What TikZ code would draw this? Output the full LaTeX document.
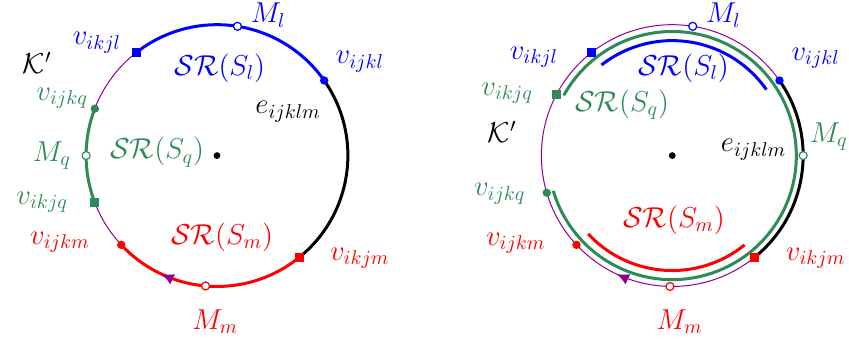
\documentclass[tikz,border=0pt]{standalone}
\usepackage{amsmath, amssymb}
\usepackage{tikz}
\usetikzlibrary{arrows.meta, positioning, calc, decorations.markings}
\usepackage{xcolor}
\definecolor{sgreen}{RGB}{46,139,87}
\definecolor{kpurple}{RGB}{145,0,145}

\tikzset{
  lbl/.style={font=\Large, inner sep=1pt},
  sqmark/.style={rectangle, fill=#1, minimum size=4.6pt, inner sep=0pt},
  dotmark/.style={circle, fill=#1, minimum size=4.2pt, inner sep=0pt},
  openmark/.style={circle, draw=#1, fill=white, line width=0.6pt, minimum size=4pt, inner sep=0pt},
  kcirc/.style={kpurple, line width=0.5pt},
  thickarc/.style={line width=1.5pt},
  orient/.style={decorate, decoration={markings, mark=at position 0.5 with {\arrow[kpurple]{Latex[length=6pt,width=5.5pt]}}}}
}

\begin{document}
\begin{tikzpicture}
        \def\R{2.3}
        \useasboundingbox (-3.813,-3.311) rectangle (11.106,2.734);

        % Cerchio sinistro
        \coordinate (O) at (0,0);
        \coordinate (vikjl) at (128:\R);
        \coordinate (vijkl) at (35:\R);
        \coordinate (vikjm) at (-51:\R);
        \coordinate (vijkm) at (-137:\R);
        \coordinate (vikjq) at (201:\R);
        \coordinate (vijkq) at (159:\R);
        \draw[kcirc] (O) circle (\R);
        \draw[thickarc, blue] (vikjl) arc[start angle=128, end angle=35, radius=\R];
        \draw[thickarc, black] (vijkl) arc[start angle=35, end angle=-51, radius=\R];
        \draw[thickarc, red] (vikjm) arc[start angle=-51, end angle=-137, radius=\R];
        \draw[thickarc, sgreen] (vijkq) arc[start angle=159, end angle=201, radius=\R];
        \path[orient] (-105:\R) arc[start angle=-105, end angle=-125, radius=\R];

        \node[dotmark=black, minimum size=3.4pt] (c) at (O) {};
        \node[sqmark=blue] (vikjl-m) at (vikjl) {};
        \node[openmark=blue] (Ml-m) at (81:\R) {};
        \node[dotmark=blue] (vijkl-m) at (vijkl) {};
        \node[sqmark=red] (vikjm-m) at (vikjm) {};
        \node[openmark=red] (Mm-m) at (-95:\R) {};
        \node[dotmark=red] (vijkm-m) at (vijkm) {};
        \node[sqmark=sgreen] (vikjq-m) at (vikjq) {};
        \node[openmark=sgreen] (Mq-m) at (180:\R) {};
        \node[dotmark=sgreen] (vijkq-m) at (vijkq) {};

        \node[lbl, blue] (Ml) at (0.9,2.47) {$M_l$};
        \node[lbl, blue] (lvijkl) at (2.51,1.65) {$v_{ijkl}$};
        \node[lbl, blue] (lvikjl) at (-2.11,1.98) {$v_{ikjl}$};
        \node[lbl, blue] (SRl) at (0.05,1.54) {$\mathcal{SR}(S_l)$};
        \node[lbl] (e) at (1.25,0.77) {$e_{ijklm}$};
        \node[lbl] (K) at (-3.16,1.63) {$\mathcal{K}'$};
        \node[lbl, sgreen] (lvijkq) at (-2.72,1.01) {$v_{ijkq}$};
        \node[lbl, sgreen] (Mq) at (-2.9,0) {$M_q$};
        \node[lbl, sgreen] (SRq) at (-1.05,0.06) {$\mathcal{SR}(S_q)$};
        \node[lbl, sgreen] (lvikjq) at (-3.07,-0.82) {$v_{ikjq}$};
        \node[lbl, red] (lvijkm) at (-2.76,-1.52) {$v_{ijkm}$};
        \node[lbl, red] (SRm) at (0.09,-1.43) {$\mathcal{SR}(S_m)$};
        \node[lbl, red] (lvikjm) at (2.51,-1.8) {$v_{ikjm}$};
        \node[lbl, red] (Mm) at (-0.03,-2.92) {$M_m$};

        % Cerchio destro
        \begin{scope}[xshift=8cm]
        \coordinate (O2) at (0,0);
        \coordinate (vikjl2) at (128:\R);
        \coordinate (vijkl2) at (35:\R);
        \coordinate (vikjm2) at (-51:\R);
        \coordinate (vijkm2) at (-137:\R);
        \coordinate (vikjq2) at (152:\R);
        \coordinate (vijkq2) at (196.5:\R);
        \coordinate (gstart) at (151:2.18);
        \coordinate (lstart) at (128:2.02);
        \coordinate (mstart) at (-137:2.02);
        \draw[kcirc] (O2) circle (\R);
        \draw[thickarc, black] (vijkl2) arc[start angle=35, end angle=-51, radius=\R];
        \draw[thickarc, sgreen] (gstart) arc[start angle=151, end angle=-163.5, radius=2.18];
        \draw[thickarc, blue] (lstart) arc[start angle=128, end angle=35, radius=2.02];
        \draw[thickarc, red] (mstart) arc[start angle=-137, end angle=-51, radius=2.02];
        \path[orient] (-105:\R) arc[start angle=-105, end angle=-125, radius=\R];

        \node[dotmark=black, minimum size=3.4pt] (c2) at (O2) {};
        \node[sqmark=blue] (vikjl2-m) at (vikjl2) {};
        \node[openmark=blue] (Ml2-m) at (81:\R) {};
        \node[dotmark=blue] (vijkl2-m) at (vijkl2) {};
        \node[openmark=sgreen] (Mq2-m) at (0:\R) {};
        \node[sqmark=red] (vikjm2-m) at (vikjm2) {};
        \node[openmark=red] (Mm2-m) at (-91:\R) {};
        \node[dotmark=red] (vijkm2-m) at (vijkm2) {};
        \node[dotmark=sgreen] (vijkq2-m) at (vijkq2) {};
        \node[sqmark=sgreen] (vikjq2-m) at (vikjq2) {};

        \node[lbl, blue] (Ml2) at (0.9,2.47) {$M_l$};
        \node[lbl, blue] (lvijkl2) at (2.52,1.71) {$v_{ijkl}$};
        \node[lbl, blue] (lvikjl2) at (-2.43,1.73) {$v_{ikjl}$};
        \node[lbl, blue] (SRl2) at (0.2,1.54) {$\mathcal{SR}(S_l)$};
        \node[lbl, sgreen] (SRq2) at (-0.88,0.89) {$\mathcal{SR}(S_q)$};
        \node[lbl, sgreen] (lvikjq2) at (-2.9,1.1) {$v_{ikjq}$};
        \node[lbl] (K2) at (-2.99,0.42) {$\mathcal{K}'$};
        \node[lbl] (e2) at (1.43,0.1) {$e_{ijklm}$};
        \node[lbl, sgreen] (Mq2) at (2.75,0.33) {$M_q$};
        \node[lbl, sgreen] (lvijkq2) at (-3.03,-0.67) {$v_{ijkq}$};
        \node[lbl, red] (lvijkm2) at (-2.75,-1.54) {$v_{ijkm}$};
        \node[lbl, red] (SRm2) at (0.03,-1.13) {$\mathcal{SR}(S_m)$};
        \node[lbl, red] (lvikjm2) at (2.52,-1.8) {$v_{ikjm}$};
        \node[lbl, red] (Mm2) at (0.13,-2.92) {$M_m$};
        \end{scope}
    \end{tikzpicture}
\end{document}
